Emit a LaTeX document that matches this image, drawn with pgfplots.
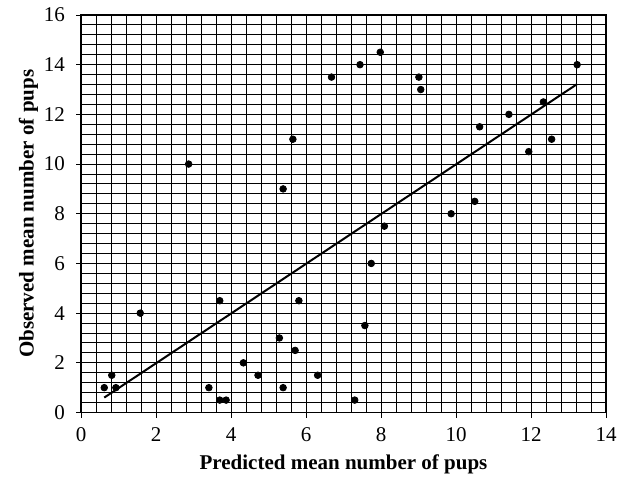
\documentclass[border=0pt]{standalone}
\usepackage{fontspec}
\setmainfont{Liberation Serif}
\usepackage{pgfplots}
\pgfplotsset{compat=1.18}

\pgfplotstableread{
x y
0.62 1.0
0.82 1.5
0.93 1.0
1.58 4.0
2.87 10.0
3.41 1.0
3.70 0.5
3.87 0.5
3.70 4.5
4.33 2.0
4.72 1.5
5.29 3.0
5.39 9.0
5.39 1.0
5.65 11.0
5.71 2.5
5.81 4.5
6.31 1.5
6.68 13.5
7.30 0.5
7.44 14.0
7.57 3.5
7.74 6.0
7.98 14.5
8.09 7.5
9.01 13.5
9.06 13.0
9.87 8.0
10.50 8.5
10.63 11.5
11.41 12.0
11.94 10.5
12.33 12.5
12.55 11.0
13.23 14.0
}\pups

\begin{document}
\begin{tikzpicture}
\begin{axis}[
  scale only axis,
  width=262.5pt, height=198.75pt,
  xmin=0, xmax=14, ymin=0, ymax=16,
  xtick={0,2,...,14}, ytick={0,2,...,16},
  minor tick num=4,
  grid=both,
  major grid style={black, line width=0.45pt},
  minor grid style={black, line width=0.45pt},
  axis line style={black, line width=0.6pt},
  tick pos=left, tick align=outside,
  major tick length=2.5pt, minor tick length=0pt,
  tick style={black, line width=0.5pt},
  /pgf/number format/assume math mode=true,
  tick label style={font=\fontsize{10.5}{12}\selectfont},
  xticklabel style={yshift=-1.5pt},
  yticklabel style={xshift=-2pt},
  label style={font=\fontsize{10.5}{12}\selectfont\bfseries},
  xlabel={Predicted mean number of pups},
  ylabel={Observed mean number of pups},
  ylabel style={yshift=-4pt},
  xlabel style={yshift=0.5pt},
]
\addplot[only marks, mark=*, mark size=1.65pt, black] table {\pups};
\addplot[black, line width=1pt] coordinates {(0.62,0.60) (13.23,13.22)};
\coordinate (tl) at (rel axis cs:0,1);
\coordinate (br) at (rel axis cs:1,0);
\end{axis}
\path ([xshift=-40.5pt, yshift=7.5pt]tl) ([xshift=9pt, yshift=-32pt]br);
\end{tikzpicture}
\end{document}
